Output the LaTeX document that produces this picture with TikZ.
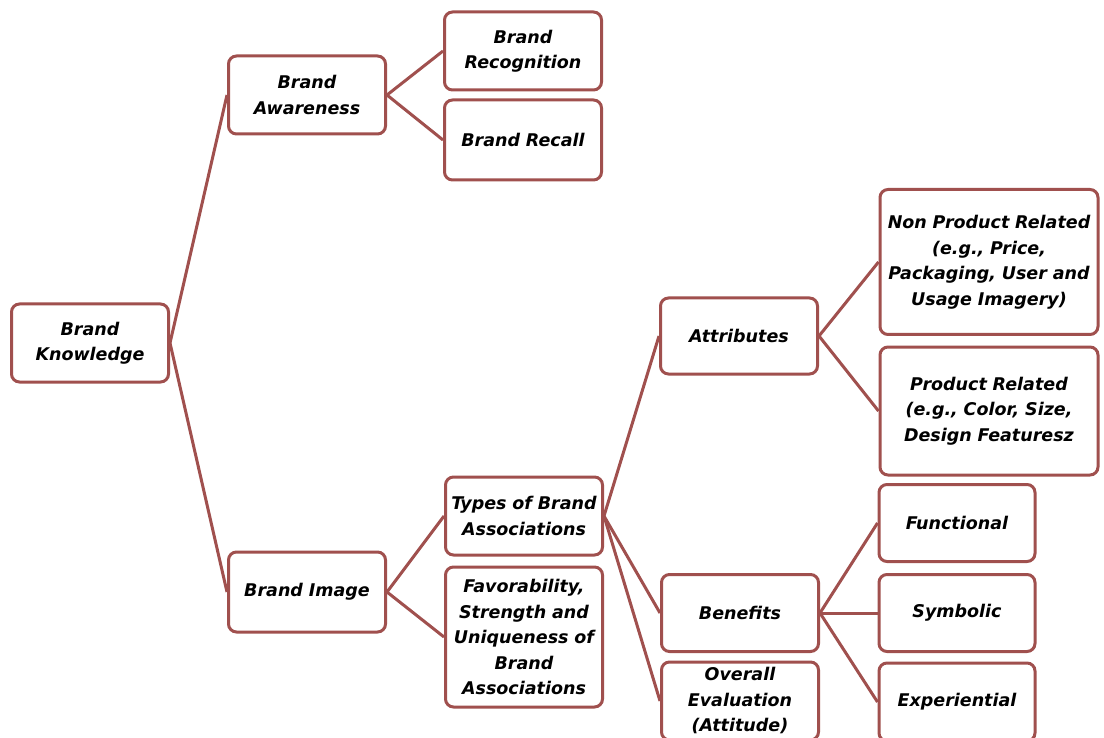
\documentclass[tikz,border=0pt]{standalone}
\usepackage{fontspec}
\setmainfont{DejaVu Sans}
\usetikzlibrary{positioning}
\definecolor{boxred}{RGB}{160,80,78}

\begin{document}
\begin{tikzpicture}[x=1pt, y=-1pt, box/.style={draw=boxred, line width=3pt, rounded corners=8pt, fill=white, align=center, text width=152pt, minimum width=157pt, minimum height=78pt, inner sep=2pt, font=\fontsize{17.5}{25.5}\selectfont\bfseries\itshape}, widebox/.style={box, text width=214pt, minimum width=218pt}, link/.style={draw=boxred, line width=3pt}]
    \clip (0,0) rectangle (1104,738);
    \fill[white] (0,0) rectangle (1104,738);

    % nodes
    \node[box] (know) at (90,343) {Brand\\Knowledge};
    \node[box] (aware) at (307,95) {Brand\\Awareness};
    \node[box] (recog) at (523,51) {Brand\\Recognition};
    \node[box, minimum height=80pt] (recall) at (523,140) {Brand Recall};
    \node[box, minimum height=80pt] (image) at (307,592) {Brand Image};
    \node[box] (types) at (524,516) {Types of Brand\\Associations};
    \node[box, minimum height=140pt] (favor) at (524,637) {Favorability,\\Strength and\\Uniqueness of\\Brand\\Associations};
    \node[box, minimum height=76pt] (attr) at (739,336) {Attributes};
    \node[box, minimum height=77pt] (benef) at (740,613) {Benefits};
    \node[box, minimum height=78pt] (overall) at (740,701) {Overall\\Evaluation\\(Attitude)};
    \node[widebox, minimum height=145pt] (nonprod) at (989,262) {Non Product Related\\(e.g., Price,\\Packaging, User and\\Usage Imagery)};
    \node[widebox, minimum height=128pt] (prod) at (989,411) {Product Related\\(e.g., Color, Size,\\Design Featuresz};
    \node[box, minimum width=155pt, minimum height=77pt] (func) at (957,523) {Functional};
    \node[box, minimum width=155pt, minimum height=77pt] (symb) at (957,613) {Symbolic};
    \node[box, minimum width=155pt, minimum height=78pt] (exper) at (957,702) {Experiential};

    % links
    \draw[link] (know.east) -- (aware.west);
    \draw[link] (know.east) -- (image.west);
    \draw[link] (aware.east) -- (recog.west);
    \draw[link] (aware.east) -- (recall.west);
    \draw[link] (image.east) -- (types.west);
    \draw[link] (image.east) -- (favor.west);
    \draw[link] (types.east) -- (attr.west);
    \draw[link] (types.east) -- (benef.west);
    \draw[link] (types.east) -- (overall.west);
    \draw[link] (attr.east) -- (nonprod.west);
    \draw[link] (attr.east) -- (prod.west);
    \draw[link] (benef.east) -- (func.west);
    \draw[link] (benef.east) -- (symb.west);
    \draw[link] (benef.east) -- (exper.west);
\end{tikzpicture}
\end{document}
